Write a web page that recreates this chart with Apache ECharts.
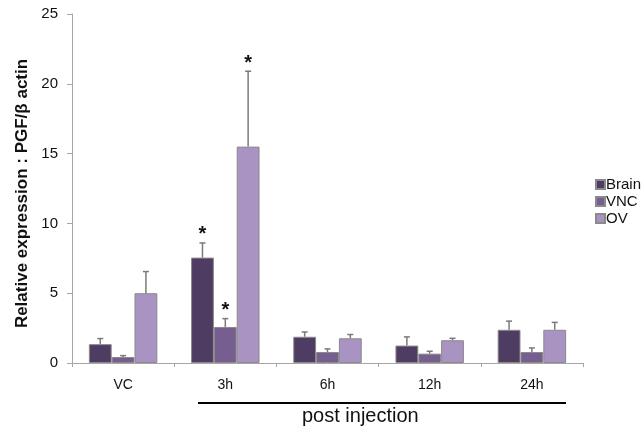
<!DOCTYPE html>
<html><head><meta charset="utf-8">
<script src="https://cdn.jsdelivr.net/npm/echarts@6/dist/echarts.min.js"></script>
<style>html,body{margin:0;padding:0;background:#fff}#c{width:642px;height:429px}</style>
</head><body><div id="c"></div>
<script>
var categories = ['VC', '3h', '6h', '12h', '24h'];
var brain = [1.35, 7.55, 1.88, 1.25, 2.38];
var vnc = [0.43, 2.58, 0.79, 0.67, 0.79];
var ov = [5.0, 15.5, 1.77, 1.63, 2.38];
var brainErr = [0.4, 1.05, 0.34, 0.62, 0.62];
var vncErr = [0.1, 0.6, 0.22, 0.17, 0.29];
var ovErr = [1.55, 5.4, 0.27, 0.14, 0.53];
var brainSig = [0, 1, 0, 0, 0];
var vncSig = [0, 1, 0, 0, 0];
var ovSig = [0, 1, 0, 0, 0];
var seriesNames = ['Brain', 'VNC', 'OV'];
var yTicks = [0, 5, 10, 15, 20, 25];

var FONT = 'Liberation Sans, Arial, Helvetica, sans-serif';
var colors = ['#4f3c62', '#765f90', '#a893c3'];
var vals = [brain, vnc, ov], errs = [brainErr, vncErr, ovErr], sigs = [brainSig, vncSig, ovSig];
var gapFrac = 0.33;

var chart = echarts.init(document.getElementById('c'), null, {renderer: 'canvas'});
var series = [];
seriesNames.forEach(function (n, s) {
  series.push({
    name: n, type: 'bar', data: vals[s], barGap: '0%', barCategoryGap: '33%',
    itemStyle: {color: colors[s], borderColor: '#8a8a8a', borderWidth: 1}
  });
});
seriesNames.forEach(function (n, s) {
  series.push({
    type: 'custom', silent: true, z: 5,
    data: vals[s].map(function (v, i) { return [i, v, errs[s][i], sigs[s][i]]; }),
    renderItem: function (params, api) {
      var i = api.value(0), v = api.value(1), e = api.value(2), sg = api.value(3);
      var band = api.size([1, 0])[0];
      var bw = band * (1 - gapFrac) / 3;
      var c = api.coord([i, v]);
      var x = c[0] - 1.5 * bw + (s + 0.5) * bw;
      var top = api.coord([i, v + e])[1];
      var children = [
        {type: 'line', shape: {x1: x, y1: c[1], x2: x, y2: top}, style: {stroke: '#7a7a7a', lineWidth: 1.5}},
        {type: 'line', shape: {x1: x - 3, y1: top, x2: x + 3, y2: top}, style: {stroke: '#7a7a7a', lineWidth: 1.5}}
      ];
      if (sg) {
        children.push({type: 'text', style: {text: '*', x: x, y: top - 8, textAlign: 'center', textVerticalAlign: 'middle',
          font: 'bold 20px ' + FONT, fill: '#111'}});
      }
      return {type: 'group', children: children};
    }
  });
});

chart.setOption({
  animation: false,
  grid: {left: 72, right: 59, top: 14, bottom: 66, containLabel: false},
  legend: {
    data: seriesNames, orient: 'vertical', left: 590, top: 172,
    itemWidth: 9, itemHeight: 9, itemGap: 2, icon: 'rect',
    textStyle: {fontFamily: FONT, fontSize: 15, color: '#111', padding: [0, 0, 0, -4]}
  },
  xAxis: {
    type: 'category', data: categories,
    axisLine: {lineStyle: {color: '#a6a6a6', width: 1}},
    axisTick: {show: true, length: 4, lineStyle: {color: '#a6a6a6'}},
    axisLabel: {margin: 15, fontFamily: FONT, fontSize: 14, color: '#111'}
  },
  yAxis: {
    type: 'value', min: yTicks[0], max: yTicks[yTicks.length - 1], interval: 5,
    name: 'Relative expression : PGF/β actin', nameLocation: 'middle', nameGap: 39,
    nameTextStyle: {fontFamily: FONT, fontSize: 17, fontWeight: 'bold', color: '#111', padding: [0, 10, 0, 0]},
    axisLine: {show: true, lineStyle: {color: '#a6a6a6'}},
    axisTick: {show: true, length: 5, lineStyle: {color: '#a6a6a6'}},
    splitLine: {show: false},
    axisLabel: {margin: 14, fontFamily: FONT, fontSize: 15, color: '#111'}
  },
  series: series,
  graphic: [
    {type: 'line', shape: {x1: 198, y1: 403, x2: 566, y2: 403}, style: {stroke: '#000', lineWidth: 2}},
    {type: 'text', left: 302, top: 406, style: {text: 'post injection', font: '20px ' + FONT, fill: '#111'}}
  ]
});
</script></body></html>
